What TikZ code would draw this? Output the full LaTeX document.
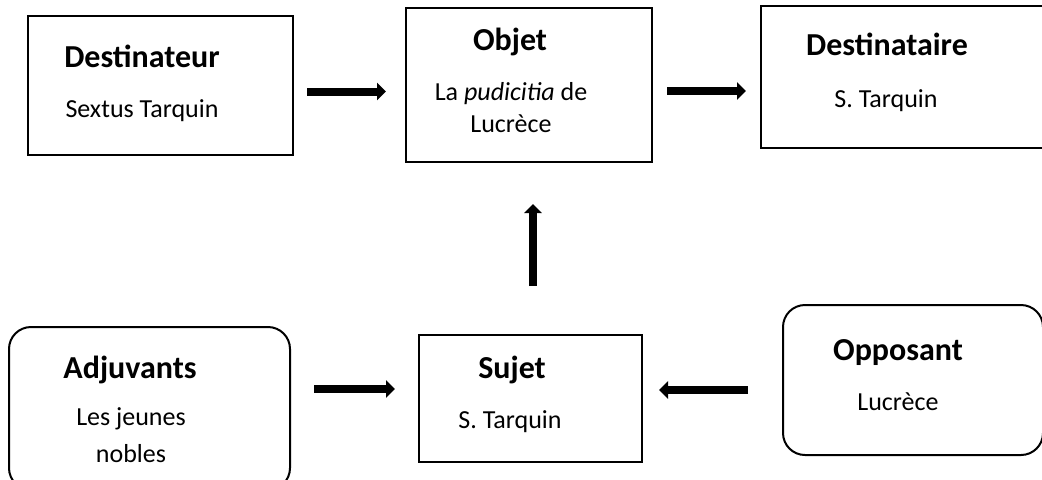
\documentclass[tikz,border=0pt]{standalone}
\usepackage{fontspec}
\setmainfont{Carlito}
\usetikzlibrary{positioning}
\usetikzlibrary{arrows.meta}
\tikzstyle{boite} = [rectangle, draw=black, line width=1pt, inner sep=0pt]
\tikzstyle{boiteronde} = [rectangle, rounded corners=11pt, draw=black, line width=1pt, inner sep=0pt]
\tikzstyle{titre} = [anchor=base, inner sep=0pt, font=\fontsize{16}{19}\selectfont\bfseries]
\tikzstyle{corps} = [anchor=base, inner sep=0pt, align=center, font=\fontsize{13}{16}\selectfont]
\tikzstyle{fleche} = [-{Triangle[length=4.5pt, width=8.5pt]}, line width=4pt]

\begin{document}
\begin{tikzpicture}[x=0.5pt, y=-0.5pt]
			\clip (0,0) rectangle (1042,479);
			% les boites
			\node[boite, minimum width=132.5pt, minimum height=69.5pt](dest) at (160.5,85.5){};
			\node[boite, minimum width=123pt, minimum height=77pt](objet) at (529,85){};
			\node[boite, minimum width=144.5pt, minimum height=71pt](destinataire) at (905.5,77){};
			\node[boite, minimum width=111.5pt, minimum height=63.5pt](sujet) at (530.5,398.5){};
			\node[boiteronde, minimum width=140.5pt, minimum height=81.5pt](adjuvants) at (149.5,408.5){};
			\node[boiteronde, minimum width=130pt, minimum height=75pt](opposant) at (913,380){};
			% les textes (base = ligne du bas)
			\node[titre](destT) at (142,67){Destinateur};
			\node[corps](destC) at (142,117){Sextus Tarquin};
			\node[titre](objetT) at (510,50){Objet};
			\node[corps](objetC) at (511,132){La \textit{pudicitia} de\\Lucrèce};
			\node[titre](destinataireT) at (887,55){Destinataire};
			\node[corps](destinataireC) at (886,107){S. Tarquin};
			\node[titre](sujetT) at (512,378){Sujet};
			\node[corps](sujetC) at (510,428){S. Tarquin};
			\node[titre](adjuvantsT) at (130,378){Adjuvants};
			\node[corps](adjuvantsC) at (131,462){Les jeunes\\[2.5pt]nobles};
			\node[titre](opposantT) at (898,360){Opposant};
			\node[corps](opposantC) at (898,410){Lucrèce};
			% les fleches
			\draw[fleche, shorten <=6.5pt, shorten >=9.5pt] ([yshift=-3pt]dest.east) -- ([yshift=-3pt]dest.east -| objet.west);
			\draw[fleche, shorten <=7pt, shorten >=7pt] ([yshift=-3pt]objet.east) -- ([yshift=-3pt]objet.east -| destinataire.west);
			\draw[fleche, shorten <=24pt, shorten >=20.5pt] ([xshift=1.25pt]sujet.north) -- ([xshift=1.25pt]sujet.north |- objet.south);
			\draw[fleche, shorten <=11.5pt, shorten >=11.5pt] ([yshift=4.75pt]sujet.west -| adjuvants.east) -- ([yshift=4.75pt]sujet.west);
			\draw[fleche, shorten <=17pt, shorten >=8pt] ([yshift=4.25pt]sujet.east -| opposant.west) -- ([yshift=4.25pt]sujet.east);
		\end{tikzpicture}
\end{document}
